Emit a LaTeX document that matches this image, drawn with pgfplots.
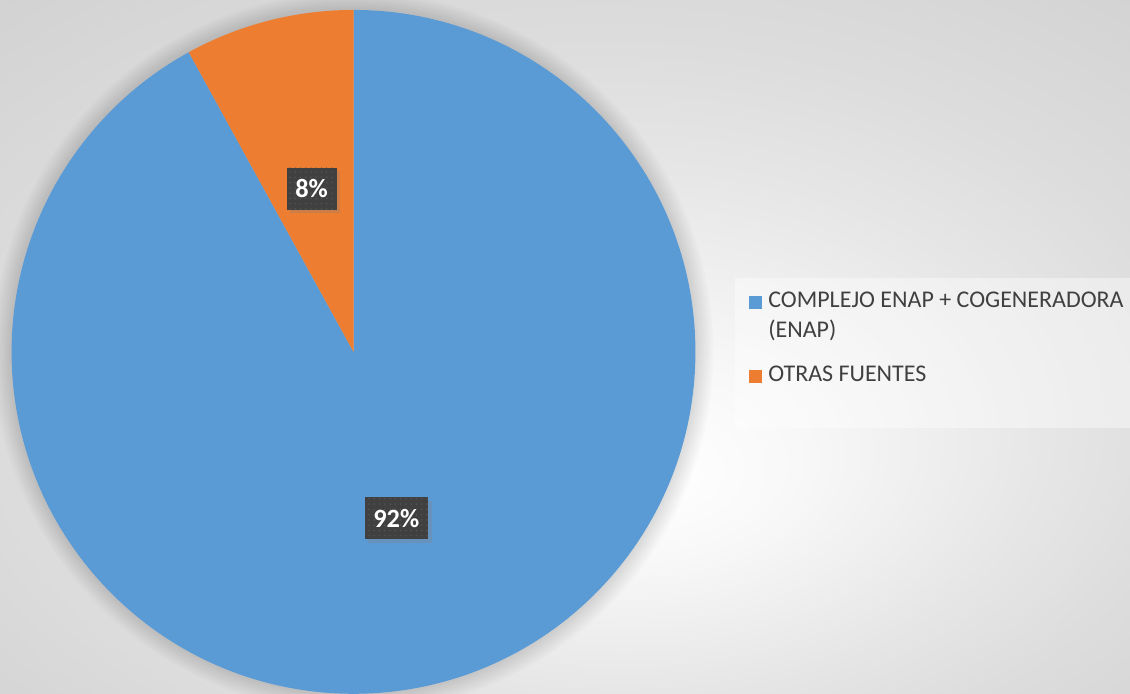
\documentclass[border=0pt]{standalone}
\usepackage{pgfplots}
\pgfplotsset{compat=1.18}
\usepackage{pgfplotstable}
\usepackage{fontspec}
\setmainfont{Carlito}
\usetikzlibrary{patterns,shadows,calc}

\definecolor{enap}{RGB}{91,155,213}
\definecolor{otras}{RGB}{237,125,49}
\definecolor{lbl}{RGB}{64,64,64}
\definecolor{dotc}{RGB}{84,84,84}
\definecolor{txt}{RGB}{64,64,64}
\definecolor{bga}{RGB}{248,248,248}
\definecolor{bgb}{RGB}{230,230,230}
\definecolor{bgc}{RGB}{221,221,221}
\definecolor{bgd}{RGB}{208,208,208}
\definecolor{bge}{RGB}{202,202,202}

\pgfdeclareradialshading{bgshade}{\pgfpoint{3.8bp}{-9.6bp}}{color(0bp)=(white); color(7bp)=(bga); color(19bp)=(bgb); color(26bp)=(bgc); color(40bp)=(bgd); color(50bp)=(bge)}

% share of each source, in percent
\pgfplotstableread{
fuente valor
enap   92
otras  8
}\piedata
\pgfplotstablegetelem{0}{valor}\of\piedata
\let\va\pgfplotsretval
\pgfmathsetmacro\aEnd{90-3.6*\va}      % end of the blue slice (clockwise from 12 o'clock)
\pgfmathsetmacro\mA{90-1.8*\va}        % middle of the blue slice
\pgfmathsetmacro\mB{\aEnd-1.8*(100-\va)} % middle of the orange slice

\tikzset{lblbox/.style={fill=lbl, text=white, font=\bfseries\fontsize{15}{17}\selectfont,
  inner xsep=5pt, inner ysep=0pt, minimum height=0.84cm,
  drop shadow={shadow xshift=2pt, shadow yshift=-2pt, opacity=0.3},
  postaction={pattern=dots, pattern color=dotc}}}

\begin{document}
\begin{tikzpicture}
\begin{scope}
\clip (0,0) rectangle (22.6cm,13.88cm);
\shade[shading=bgshade] (0,0) rectangle (22.6cm,13.88cm);
% soft shadow round the pie
\foreach \i in {1,...,8}
  \fill[overlay, black, opacity=0.016] (7.07cm,6.84cm) circle[radius=6.84cm+\i*0.045cm];
\end{scope}

\begin{axis}[at={(0,0)}, anchor=south west,
  x=0.02cm, y=0.02cm, xmin=0, xmax=1130, ymin=0, ymax=694,
  scale only axis, hide axis, clip=false]

  \fill[enap] (axis cs:353.5,342) -- ++(90:6.84cm)
    arc[start angle=90, end angle=\aEnd, radius=6.84cm] -- cycle;
  \fill[otras] (axis cs:353.5,342) -- ++(\aEnd:6.84cm)
    arc[start angle=\aEnd, end angle=-270, radius=6.84cm] -- cycle;

  \node[lblbox] at ($(axis cs:353.5,342)+(\mA:3.44cm)$) {92\%};
  \node[lblbox] at ($(axis cs:353.5,342)+(\mB:3.37cm)$) {8\%};

  % legend
  \fill[white, opacity=0.4] (axis cs:735,266) rectangle (axis cs:1130,416);
  \fill[enap] (axis cs:748.5,385) rectangle (axis cs:761.5,398);
  \fill[otras] (axis cs:748.5,311) rectangle (axis cs:761.5,324);
  \begin{scope}[every node/.style={anchor=base west, inner sep=0pt, text=txt,
      font=\fontsize{13.65}{16}\selectfont}]
    \node at (axis cs:768,386) {COMPLEJO ENAP + COGENERADORA};
    \node at (axis cs:768,356) {(ENAP)};
    \node at (axis cs:768,312) {OTRAS FUENTES};
  \end{scope}
\end{axis}
\end{tikzpicture}
\end{document}
